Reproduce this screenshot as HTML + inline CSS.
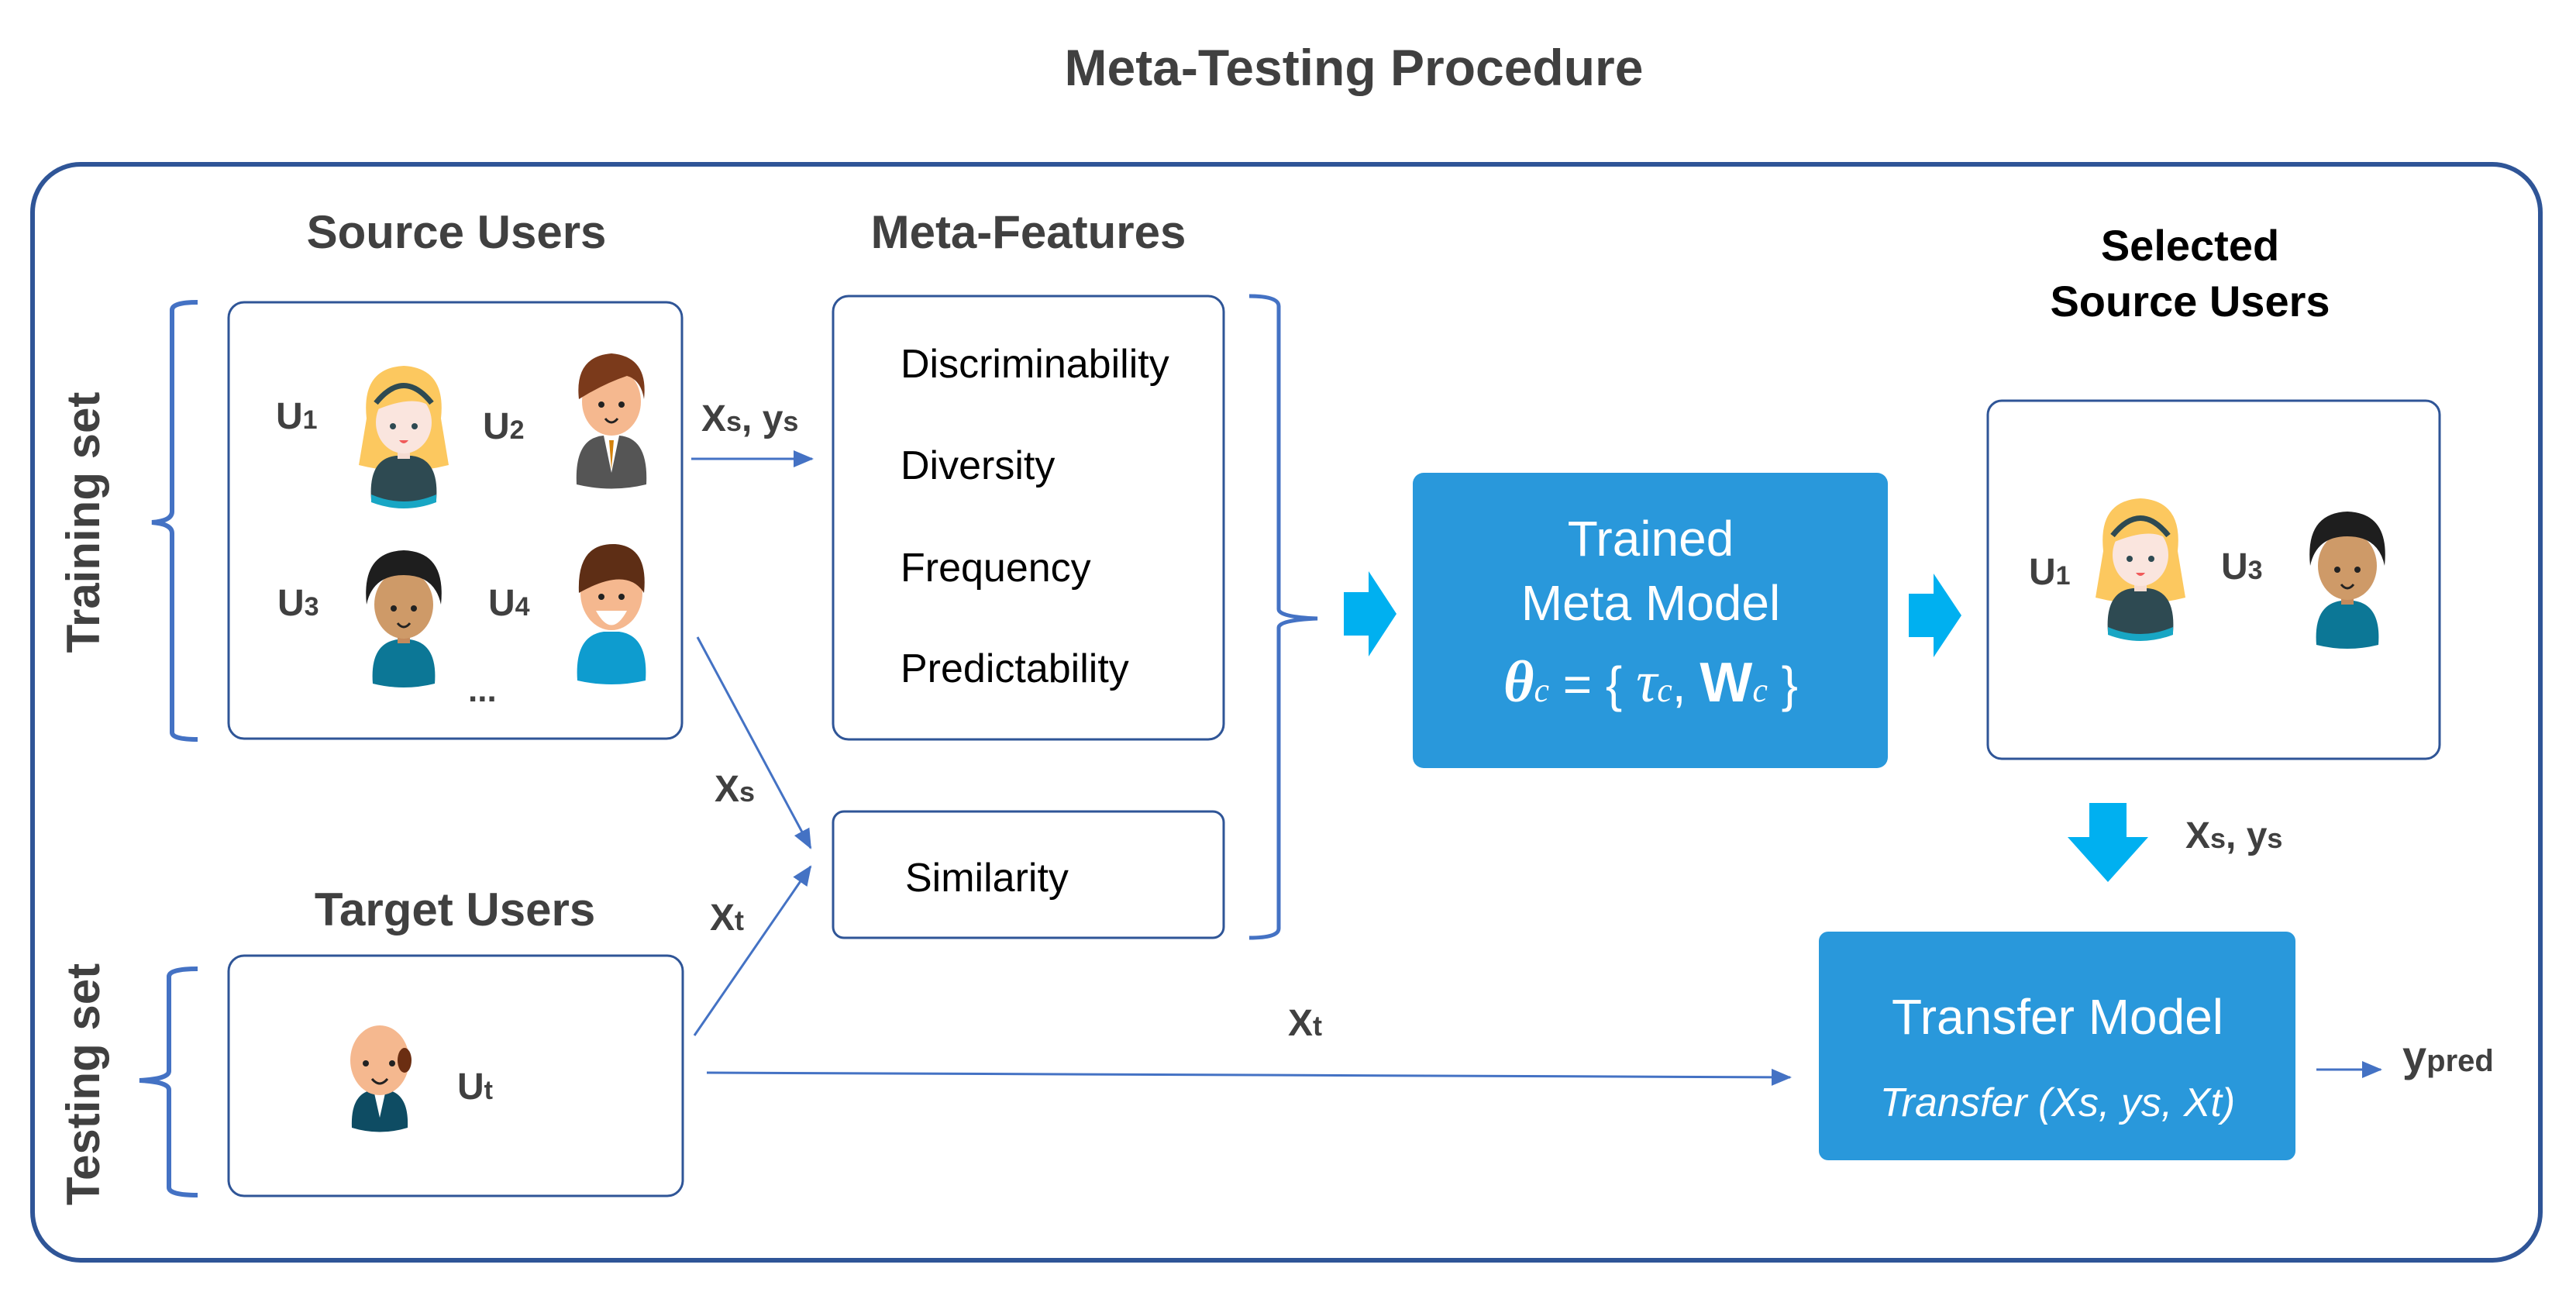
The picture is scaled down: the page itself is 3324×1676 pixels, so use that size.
<!DOCTYPE html>
<html><head><meta charset="utf-8"><style>
html,body{margin:0;padding:0;background:#fff;}
svg{display:block;}
</style></head><body>
<svg width="3324" height="1676" viewBox="0 0 3324 1676" xmlns="http://www.w3.org/2000/svg" font-family="Liberation Sans, sans-serif">
<defs>
<marker id="ah2" markerWidth="26" markerHeight="22" refX="24" refY="11" orient="auto" markerUnits="userSpaceOnUse">
<path d="M0,0 L26,11 L0,22 z" fill="#4472C4"/></marker>
</defs>

<text x="1747" y="110" text-anchor="middle" font-size="66" font-weight="bold" fill="#404040">Meta-Testing Procedure</text>

<rect x="42" y="212" width="3236" height="1414" rx="62" fill="none" stroke="#2F5597" stroke-width="6"/>

<text x="589" y="320" text-anchor="middle" font-size="60" font-weight="bold" fill="#404040">Source Users</text>
<text x="1327" y="320" text-anchor="middle" font-size="60" font-weight="bold" fill="#404040">Meta-Features</text>
<text x="2826" y="336" text-anchor="middle" font-size="56" font-weight="bold" fill="#000">Selected</text>
<text x="2826" y="408" text-anchor="middle" font-size="56" font-weight="bold" fill="#000">Source Users</text>
<text x="587" y="1194" text-anchor="middle" font-size="60" font-weight="bold" fill="#404040">Target Users</text>

<text transform="translate(128,674) rotate(-90)" text-anchor="middle" font-size="60" font-weight="bold" fill="#404040">Training set</text>
<text transform="translate(128,1399) rotate(-90)" text-anchor="middle" font-size="60" font-weight="bold" fill="#404040">Testing set</text>

<!-- brackets -->
<path d="M255,390 Q222,390 222,400 L222,660 Q222,672 196,674 Q222,676 222,688 L222,945 Q222,954 255,954" fill="none" stroke="#4472C4" stroke-width="6"/>
<path d="M255,1250 Q218,1250 218,1260 L218,1382 Q218,1392 180,1394 Q218,1396 218,1406 L218,1532 Q218,1542 255,1542" fill="none" stroke="#4472C4" stroke-width="6"/>
<path d="M1612,382 Q1650,382 1650,395 L1650,786 Q1650,796 1700,798 Q1650,800 1650,810 L1650,1198 Q1650,1210 1612,1210" fill="none" stroke="#4472C4" stroke-width="5"/>

<!-- boxes -->
<rect x="295" y="390" width="585" height="563" rx="20" fill="#fff" stroke="#2F5597" stroke-width="3"/>
<rect x="1075" y="382" width="504" height="572" rx="20" fill="#fff" stroke="#2F5597" stroke-width="3"/>
<rect x="1075" y="1047" width="504" height="163" rx="14" fill="#fff" stroke="#2F5597" stroke-width="3"/>
<rect x="2565" y="517" width="583" height="462" rx="18" fill="#fff" stroke="#2F5597" stroke-width="3"/>
<rect x="295" y="1233" width="586" height="310" rx="20" fill="#fff" stroke="#2F5597" stroke-width="3"/>

<g font-size="52" fill="#000">
<text x="1162" y="487">Discriminability</text>
<text x="1162" y="618">Diversity</text>
<text x="1162" y="750">Frequency</text>
<text x="1162" y="880">Predictability</text>
<text x="1168" y="1150">Similarity</text>
</g>

<!-- blue boxes -->
<rect x="1823" y="610" width="613" height="381" rx="14" fill="#2998DB"/>
<g fill="#fff" text-anchor="middle">
<text x="2130" y="717" font-size="64">Trained</text>
<text x="2130" y="800" font-size="64">Meta Model</text>
<text x="2130" y="905" font-size="64"><tspan font-family="Liberation Serif, serif" font-style="italic" font-weight="bold" font-size="76">θ</tspan><tspan font-family="Liberation Serif, serif" font-style="italic" font-size="44">c</tspan> = { <tspan font-family="Liberation Serif, serif" font-style="italic" font-size="76">τ</tspan><tspan font-family="Liberation Serif, serif" font-style="italic" font-size="44">c</tspan>,  <tspan font-weight="bold" font-size="72">W</tspan><tspan font-family="Liberation Serif, serif" font-style="italic" font-size="44">c</tspan> }</text>
</g>
<rect x="2347" y="1202" width="615" height="295" rx="12" fill="#2998DB"/>
<text x="2655" y="1334" text-anchor="middle" font-size="64" fill="#fff">Transfer Model</text>
<text x="2655" y="1440" text-anchor="middle" font-size="52" font-style="italic" fill="#fff">Transfer (Xs, ys, Xt)</text>

<!-- big arrows -->
<path d="M1734,764 L1766,764 L1766,737 L1802,792 L1766,847 L1766,820 L1734,820 z" fill="#00B0F0"/>
<path d="M2463,766 L2495,766 L2495,740 L2531,794 L2495,848 L2495,822 L2463,822 z" fill="#00B0F0"/>
<path d="M2696,1036 L2744,1036 L2744,1080 L2772,1080 L2720,1138 L2668,1080 L2696,1080 z" fill="#00B0F0"/>

<!-- connectors -->
<line x1="892" y1="592" x2="1048" y2="592" stroke="#4472C4" stroke-width="3" marker-end="url(#ah2)"/>
<line x1="900" y1="822" x2="1046" y2="1094" stroke="#4472C4" stroke-width="3" marker-end="url(#ah2)"/>
<line x1="896" y1="1336" x2="1046" y2="1118" stroke="#4472C4" stroke-width="3" marker-end="url(#ah2)"/>
<line x1="912" y1="1384" x2="2310" y2="1390" stroke="#4472C4" stroke-width="3" marker-end="url(#ah2)"/>
<line x1="2989" y1="1380" x2="3072" y2="1380" stroke="#4472C4" stroke-width="3" marker-end="url(#ah2)"/>

<g font-weight="bold" fill="#404040" font-size="48">
<text x="905" y="556">X<tspan font-size="36">s</tspan>, y<tspan font-size="36">s</tspan></text>
<text x="922" y="1034">X<tspan font-size="36">s</tspan></text>
<text x="916" y="1200">X<tspan font-size="36">t</tspan></text>
<text x="1662" y="1336">X<tspan font-size="36">t</tspan></text>
<text x="2820" y="1094">X<tspan font-size="36">s</tspan>, y<tspan font-size="36">s</tspan></text>
<text x="3100" y="1382" font-size="56">y<tspan font-size="40">pred</tspan></text>
<text x="356" y="553">U<tspan font-size="34">1</tspan></text>
<text x="623" y="566">U<tspan font-size="34">2</tspan></text>
<text x="358" y="794">U<tspan font-size="34">3</tspan></text>
<text x="630" y="794">U<tspan font-size="34">4</tspan></text>
<text x="2618" y="754">U<tspan font-size="34">1</tspan></text>
<text x="2866" y="747">U<tspan font-size="34">3</tspan></text>
<text x="590" y="1418">U<tspan font-size="34">t</tspan></text>
<text x="604" y="905" font-size="44">...</text>
</g>

<!-- avatars -->
<g id="girl" transform="translate(521,560)">
<path d="M-48,-20 Q-55,-85 0,-88 Q55,-85 48,-20 L58,40 Q0,55 -58,40 z" fill="#FCC85F"/>
<path d="M-42,85 Q-46,32 -10,28 L10,28 Q46,32 42,85 Q0,98 -42,85 z" fill="#2E4A52"/>
<path d="M-42,78 Q0,96 42,78 L42,88 Q0,104 -42,88 z" fill="#18A6C4"/>
<rect x="-8" y="10" width="16" height="22" fill="#F6DCD2"/>
<ellipse cx="0" cy="-15" rx="36" ry="40" fill="#FAE5DE"/>
<path d="M-38,-30 Q-30,-80 10,-75 Q40,-70 40,-30 Q20,-55 -38,-30 z" fill="#FCC85F"/>
<path d="M-36,-40 Q0,-85 36,-40" fill="none" stroke="#2E4A52" stroke-width="7"/>
<circle cx="-14" cy="-10" r="4" fill="#2E4A52"/><circle cx="14" cy="-10" r="4" fill="#2E4A52"/>
<path d="M-6,8 Q0,16 6,8 z" fill="#F05A5A"/>
</g>
<g transform="translate(2241,171)"><use href="#girl"/></g>
<g transform="translate(789,540)">
<path d="M-45,85 Q-48,25 -10,22 L10,22 Q48,25 45,85 Q0,96 -45,85 z" fill="#555"/>
<path d="M-10,22 L0,70 L10,22 z" fill="#fff"/><path d="M-3,28 L0,66 L3,28 z" fill="#D4820C"/>
<ellipse cx="0" cy="-22" rx="38" ry="44" fill="#F5B88F"/>
<path d="M-42,-25 Q-48,-80 0,-84 Q48,-80 42,-25 Q38,-50 20,-55 Q-10,-45 -42,-25 z" fill="#7B3A1B"/>
<circle cx="-13" cy="-18" r="4" fill="#222"/><circle cx="13" cy="-18" r="4" fill="#222"/>
<path d="M-8,0 Q0,10 8,0" fill="none" stroke="#222" stroke-width="3"/>
</g>
<g id="bb" transform="translate(521,800)">
<path d="M-40,82 Q-44,30 -8,25 L8,25 Q44,30 40,82 Q0,92 -40,82 z" fill="#0C7796"/>
<rect x="-8" y="10" width="16" height="20" fill="#C48A5C"/>
<ellipse cx="0" cy="-20" rx="38" ry="44" fill="#CE9A68"/>
<path d="M-48,-20 Q-55,-88 0,-90 Q55,-88 48,-20 Q40,-58 0,-58 Q-40,-58 -48,-20 z" fill="#1E1E1E"/>
<circle cx="-13" cy="-15" r="4" fill="#222"/><circle cx="13" cy="-15" r="4" fill="#222"/>
<path d="M-8,4 Q0,14 8,4" fill="none" stroke="#222" stroke-width="3"/>
</g>
<g transform="translate(2508,-50)"><use href="#bb"/></g>
<g transform="translate(789,790)">
<path d="M-44,88 Q-48,30 -10,25 L10,25 Q48,30 44,88 Q0,98 -44,88 z" fill="#0E9CCF"/>
<ellipse cx="0" cy="-25" rx="40" ry="48" fill="#F5B88F"/>
<path d="M-42,-25 Q-45,-90 5,-88 Q48,-85 42,-25 Q20,-60 -42,-25 z" fill="#5E2E15"/>
<circle cx="-13" cy="-20" r="4" fill="#222"/><circle cx="13" cy="-20" r="4" fill="#222"/>
<path d="M-20,-2 Q0,35 20,-2 z" fill="#fff"/>
</g>
<g transform="translate(490,1390)">
<path d="M-36,65 Q-38,20 -8,16 L8,16 Q38,20 36,65 Q0,76 -36,65 z" fill="#0E4C63"/>
<path d="M-8,16 L0,52 L8,16 z" fill="#fff"/>
<ellipse cx="0" cy="-22" rx="38" ry="45" fill="#F5B88F"/>
<ellipse cx="32" cy="-22" rx="9" ry="16" fill="#6B2E12"/>
<circle cx="-18" cy="-18" r="4" fill="#222"/><circle cx="16" cy="-18" r="4" fill="#222"/>
<path d="M-10,2 Q0,14 10,2" fill="none" stroke="#222" stroke-width="3"/>
</g>
</svg>
</body></html>
